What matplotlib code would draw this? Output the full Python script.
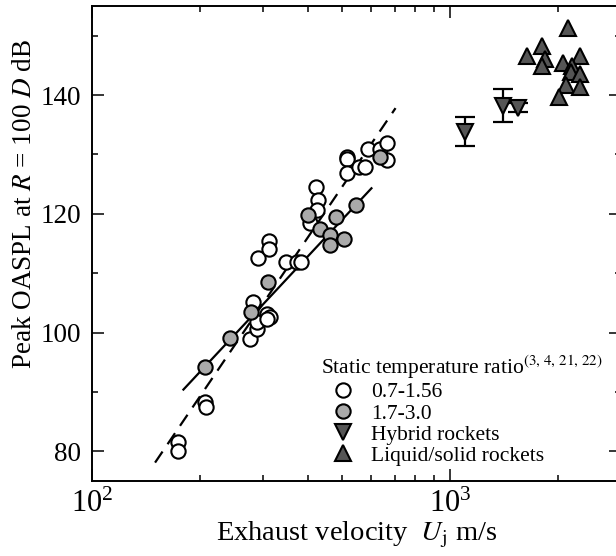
import numpy as np
import matplotlib
matplotlib.use('Agg')
import matplotlib.pyplot as plt
from matplotlib.ticker import LogLocator, MultipleLocator, LogFormatterMathtext, NullFormatter

plt.rcParams['font.family'] = 'serif'
plt.rcParams['font.serif'] = ['Liberation Serif', 'DejaVu Serif']
plt.rcParams['mathtext.fontset'] = 'stix'

# Jets, static temperature ratio 0.7-1.56 (open circles)
cold_u = [174, 174, 207, 208, 276, 288, 288, 282, 309, 315, 309, 291, 312, 312,
          347, 374, 383, 405, 423, 427, 425, 516, 516, 516, 557, 580, 590, 636, 668, 667]
cold_db = [81.5, 80.0, 88.3, 87.5, 99.0, 100.6, 101.8, 105.1, 103.2, 102.6, 102.3, 112.5, 115.5, 114.0,
           111.9, 111.9, 111.9, 118.4, 124.5, 122.3, 120.7, 129.6, 129.2, 126.9, 127.9, 127.9, 131.0, 131.0, 132.0, 129.0]

# Jets, static temperature ratio 1.7-3.0 (grey circles)
hot_u = [207, 243, 278, 311, 400, 432, 462, 462, 479, 504, 547, 636]
hot_db = [94.2, 99.1, 103.5, 108.5, 119.8, 117.5, 116.4, 114.7, 119.5, 115.7, 121.5, 129.6]

# Hybrid rockets with error bars
hyb_u = [1102, 1405, 1549]
hyb_db = [133.8, 138.2, 137.9]
hyb_err = [2.45, 2.8, 0.7]

# Liquid / solid rockets
liq_u = [2139, 1808, 1642, 1839, 1801, 2067, 2301, 2195, 2180, 2301, 2102, 2301, 2014]
liq_db = [151.3, 148.2, 146.5, 146.0, 144.9, 145.4, 146.5, 144.9, 143.8, 143.6, 141.7, 141.3, 139.6]

# fit lines (end points)
fit_solid_u = [180, 603]
fit_solid_db = [90.4, 124.3]
fit_dash_u = [150, 704]
fit_dash_db = [78.1, 137.8]

fig = plt.figure(figsize=(6.16, 5.56), dpi=100)
ax = fig.add_axes([92/616, 1 - 481/556, 529/616, 475/556])

ax.plot(fit_solid_u, fit_solid_db, color='black', lw=1.6, zorder=1)
ax.plot(fit_dash_u, fit_dash_db, color='black', lw=1.6, dashes=(6, 4), zorder=1)

mk = dict(linestyle='none', markeredgecolor='black', markeredgewidth=1.5)
ax.plot(cold_u, cold_db, 'o', ms=10.3, markerfacecolor='white', label='0.7-1.56', **mk)
ax.plot(hot_u, hot_db, 'o', ms=10.3, markerfacecolor='#aaaaaa', label='1.7-3.0', **mk)
ax.errorbar(hyb_u, hyb_db, yerr=hyb_err, fmt='none', ecolor='black', elinewidth=1.6,
            capsize=7, capthick=1.6, zorder=2)
ax.plot(hyb_u, hyb_db, 'v', ms=11, markerfacecolor='#555555', label='Hybrid rockets', zorder=3, **mk)
ax.plot(liq_u, liq_db, '^', ms=11, markerfacecolor='#555555', label='Liquid/solid rockets', zorder=3, **mk)

ax.set_xscale('log')
ax.set_xlim(100, 3000)
ax.set_ylim(75, 155)
ax.xaxis.set_major_locator(LogLocator(base=10))
ax.xaxis.set_major_formatter(LogFormatterMathtext())
ax.xaxis.set_minor_locator(LogLocator(base=10, subs=np.arange(2, 10)))
ax.xaxis.set_minor_formatter(NullFormatter())
ax.yaxis.set_major_locator(MultipleLocator(20))
ax.yaxis.set_minor_locator(MultipleLocator(10))

ax.tick_params(which='both', direction='in', top=True, right=True, width=1.1)
ax.tick_params(which='major', length=8.5)
ax.tick_params(which='minor', length=4.5)
ax.tick_params(axis='y', pad=8, labelsize=19.5)
ax.tick_params(axis='x', pad=6, labelsize=22)
for s in ax.spines.values():
    s.set_linewidth(1.4)

ax.set_xlabel('Exhaust velocity  $U_\\mathrm{j}$ m/s', fontsize=20.5, labelpad=1)
ax.set_ylabel('Peak OASPL at $R$ = 100 $D$ dB', fontsize=19.5, labelpad=2)
ax.yaxis.label.set_y(0.583)

leg = ax.legend(title='Static temperature ratio$^{(3,\\,4,\\,21,\\,22)}$', loc='lower left',
                bbox_to_anchor=(0.405, 0.0), frameon=False, fontsize=15.5, title_fontsize=15.5,
                handletextpad=0.33, labelspacing=0.05, borderpad=0.2, handlelength=2.0,
                alignment='left')

fig.savefig('out.png', dpi=100)
